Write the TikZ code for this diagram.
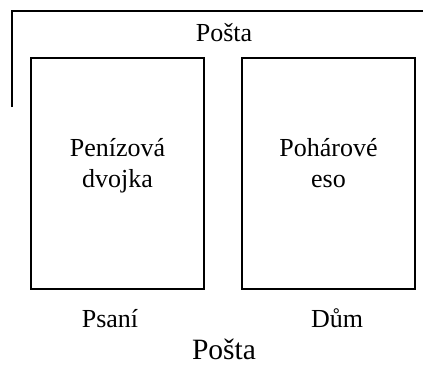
\documentclass[tikz,border=0pt]{standalone}
\usepackage{fontspec}
\setmainfont{Liberation Serif}
\usetikzlibrary{positioning}
\tikzset{
  card/.style={draw,line width=1.6pt,minimum width=173pt,minimum height=231pt,inner sep=0pt},
  cardtext/.style={font=\fontsize{26}{31}\selectfont,inner sep=0pt,anchor=base},
  bigtext/.style={font=\fontsize{29.5}{34}\selectfont,inner sep=0pt,anchor=base}
}
\begin{document}
\begin{tikzpicture}[x=1pt,y=1pt]
\useasboundingbox (0,0) rectangle (423,365);
% frame of the top label
\coordinate (frameA) at (12,258);
\coordinate (frameB) at (12,354);
\coordinate (frameC) at (423,354);
\draw[line width=1.6pt] (frameA)--(frameB)--(frameC);
\node[cardtext] (topPosta) at (224,323) {Pošta};
% the two cards
\node[card] (penize) at (117.5,191.5) {};
\node[card] (pohar) at (328.5,191.5) {};
\node[cardtext] (penizeA) at (117.5,209) {Penízová};
\node[cardtext] (penizeB) at (117.5,178) {dvojka};
\node[cardtext] (poharA) at (328.5,209) {Pohárové};
\node[cardtext] (poharB) at (328.5,178) {eso};
% labels below
\node[cardtext] (psani) at (110,38) {Psaní};
\node[cardtext] (dum) at (337,38) {Dům};
\node[bigtext] (botPosta) at (224,6) {Pošta};
\end{tikzpicture}
\end{document}
